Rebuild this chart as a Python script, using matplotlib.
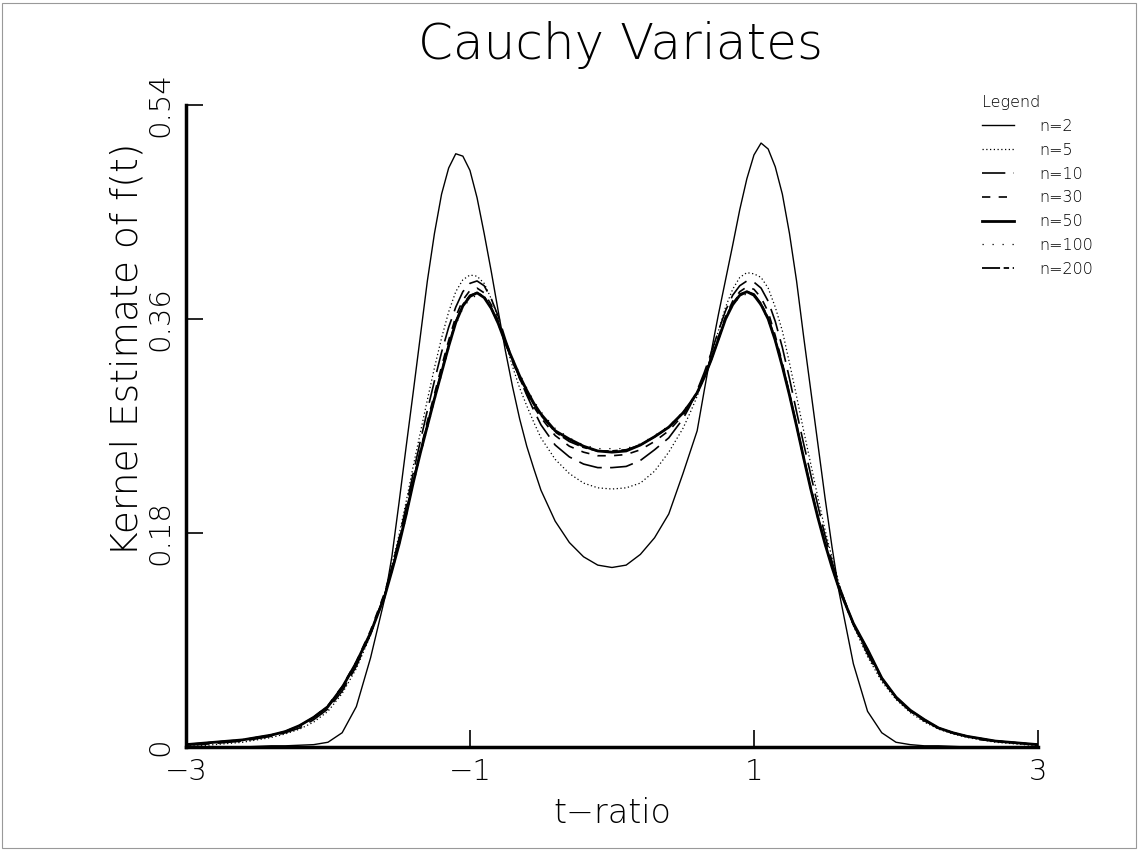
import matplotlib
matplotlib.use("Agg")
import matplotlib.pyplot as plt
from matplotlib import font_manager as fm
from matplotlib.patches import Rectangle

# t grid: 0.1 steps in the tails and the centre, 0.05 steps around the peaks
t_ratio = ([round(-3.0 + 0.1 * i, 2) for i in range(15)]
           + [round(-1.55 + 0.05 * i, 2) for i in range(21)]
           + [round(-0.5 + 0.1 * i, 2) for i in range(11)]
           + [round(0.55 + 0.05 * i, 2) for i in range(21)]
           + [round(1.6 + 0.1 * i, 2) for i in range(15)])

# kernel estimates (tail / left peak / centre / right peak / tail)
dens_n2 = [
    0.000, 0.000, 0.000, 0.000, 0.000, 0.0005, 0.001, 0.001, 0.0015, 0.002, 0.004, 0.012, 0.034, 0.075, 0.125,
    0.160, 0.205, 0.252, 0.298, 0.345, 0.392, 0.432, 0.465, 0.487, 0.499, 0.497, 0.485, 0.462, 0.432, 0.400,
    0.366, 0.333, 0.303, 0.276, 0.253, 0.234,
    0.216, 0.190, 0.172, 0.160, 0.153, 0.151, 0.153, 0.162, 0.176, 0.196, 0.230,
    0.248, 0.266, 0.300, 0.333, 0.364, 0.393, 0.422, 0.452, 0.478, 0.498, 0.508, 0.503, 0.488, 0.465, 0.432,
    0.392, 0.345, 0.300, 0.255, 0.210, 0.168,
    0.130, 0.070, 0.030, 0.012, 0.004, 0.002, 0.001, 0.001, 0.0005, 0.000, 0.000, 0.000, 0.000, 0.000, 0.000,
]
dens_n5 = [
    0.001, 0.001, 0.002, 0.003, 0.004, 0.006, 0.008, 0.011, 0.015, 0.021, 0.030, 0.045, 0.066, 0.094, 0.130,
    0.153, 0.178, 0.206, 0.236, 0.264, 0.292, 0.319, 0.344, 0.366, 0.383, 0.393, 0.397, 0.396, 0.390, 0.377,
    0.360, 0.340, 0.320, 0.302, 0.287, 0.273,
    0.260, 0.242, 0.230, 0.222, 0.218, 0.217, 0.218, 0.222, 0.232, 0.248, 0.268,
    0.281, 0.295, 0.312, 0.330, 0.350, 0.370, 0.385, 0.395, 0.399, 0.398, 0.395, 0.386, 0.370, 0.350, 0.323,
    0.295, 0.266, 0.238, 0.210, 0.183, 0.159,
    0.137, 0.102, 0.076, 0.055, 0.040, 0.029, 0.021, 0.015, 0.011, 0.008, 0.006, 0.004, 0.003, 0.002, 0.001,
]
dens_n10 = [
    0.002, 0.002, 0.003, 0.004, 0.005, 0.007, 0.009, 0.012, 0.016, 0.023, 0.032, 0.047, 0.068, 0.095, 0.129,
    0.151, 0.175, 0.202, 0.230, 0.257, 0.283, 0.308, 0.332, 0.353, 0.370, 0.383, 0.390, 0.392, 0.388, 0.377,
    0.362, 0.343, 0.326, 0.310, 0.296, 0.283,
    0.271, 0.254, 0.244, 0.238, 0.235, 0.235, 0.236, 0.241, 0.250, 0.260, 0.276,
    0.287, 0.300, 0.315, 0.332, 0.350, 0.367, 0.380, 0.388, 0.392, 0.391, 0.386, 0.375, 0.358, 0.336, 0.310,
    0.282, 0.255, 0.229, 0.203, 0.178, 0.156,
    0.136, 0.103, 0.078, 0.057, 0.041, 0.030, 0.022, 0.016, 0.012, 0.009, 0.006, 0.005, 0.004, 0.003, 0.002,
]
dens_n30 = [
    0.002, 0.003, 0.004, 0.005, 0.006, 0.008, 0.010, 0.013, 0.018, 0.025, 0.035, 0.051, 0.072, 0.098, 0.130,
    0.151, 0.173, 0.198, 0.224, 0.249, 0.274, 0.297, 0.320, 0.342, 0.362, 0.376, 0.384, 0.386, 0.382, 0.372,
    0.358, 0.340, 0.324, 0.310, 0.297, 0.286,
    0.277, 0.262, 0.253, 0.248, 0.245, 0.245, 0.246, 0.250, 0.257, 0.266, 0.279,
    0.288, 0.298, 0.312, 0.327, 0.345, 0.362, 0.375, 0.383, 0.387, 0.385, 0.378, 0.366, 0.346, 0.323, 0.297,
    0.270, 0.243, 0.218, 0.194, 0.172, 0.152,
    0.133, 0.103, 0.080, 0.058, 0.042, 0.031, 0.022, 0.016, 0.012, 0.009, 0.007, 0.005, 0.004, 0.003, 0.002,
]
dens_n50 = [
    0.002, 0.003, 0.004, 0.005, 0.006, 0.008, 0.010, 0.013, 0.018, 0.025, 0.034, 0.050, 0.071, 0.096, 0.127,
    0.148, 0.170, 0.195, 0.222, 0.247, 0.270, 0.293, 0.315, 0.337, 0.357, 0.371, 0.379, 0.382, 0.378, 0.369,
    0.356, 0.340, 0.326, 0.312, 0.300, 0.289,
    0.280, 0.266, 0.259, 0.253, 0.249, 0.248, 0.249, 0.254, 0.261, 0.269, 0.281,
    0.289, 0.298, 0.311, 0.326, 0.343, 0.360, 0.372, 0.380, 0.383, 0.380, 0.372, 0.360, 0.342, 0.320, 0.296,
    0.270, 0.243, 0.217, 0.193, 0.171, 0.151,
    0.133, 0.104, 0.082, 0.058, 0.042, 0.031, 0.023, 0.016, 0.012, 0.009, 0.007, 0.005, 0.004, 0.003, 0.002,
]
dens_n100 = [
    0.002, 0.003, 0.004, 0.005, 0.006, 0.008, 0.010, 0.013, 0.018, 0.024, 0.034, 0.049, 0.070, 0.095, 0.126,
    0.147, 0.169, 0.193, 0.220, 0.245, 0.268, 0.291, 0.313, 0.335, 0.355, 0.369, 0.377, 0.380, 0.378, 0.370,
    0.358, 0.342, 0.327, 0.314, 0.302, 0.291,
    0.282, 0.268, 0.260, 0.254, 0.251, 0.251, 0.251, 0.255, 0.262, 0.270, 0.282,
    0.290, 0.299, 0.312, 0.327, 0.343, 0.360, 0.371, 0.379, 0.381, 0.379, 0.371, 0.359, 0.341, 0.319, 0.295,
    0.269, 0.242, 0.216, 0.192, 0.170, 0.150,
    0.132, 0.103, 0.081, 0.058, 0.042, 0.031, 0.023, 0.016, 0.012, 0.009, 0.007, 0.005, 0.004, 0.003, 0.002,
]
dens_n200 = [
    0.002, 0.003, 0.004, 0.005, 0.006, 0.008, 0.010, 0.013, 0.018, 0.025, 0.034, 0.050, 0.071, 0.096, 0.128,
    0.149, 0.171, 0.196, 0.223, 0.248, 0.271, 0.294, 0.316, 0.338, 0.358, 0.372, 0.380, 0.382, 0.379, 0.369,
    0.356, 0.340, 0.325, 0.311, 0.299, 0.288,
    0.279, 0.265, 0.257, 0.252, 0.249, 0.249, 0.250, 0.254, 0.261, 0.269, 0.281,
    0.289, 0.298, 0.311, 0.326, 0.343, 0.361, 0.373, 0.381, 0.383, 0.381, 0.373, 0.361, 0.343, 0.321, 0.297,
    0.271, 0.244, 0.218, 0.194, 0.172, 0.152,
    0.134, 0.104, 0.082, 0.058, 0.042, 0.031, 0.023, 0.016, 0.012, 0.009, 0.007, 0.005, 0.004, 0.003, 0.002,
]

series_labels = ["n=2", "n=5", "n=10", "n=30", "n=50", "n=100", "n=200"]
x_ticks = [-3, -1, 1, 3]
y_ticks = [0, 0.18, 0.36, 0.54]
y_tick_labels = ["0", "0.18", "0.36", "0.54"]


def pick_light_family():
    # first installed family that ships a light face; the original uses a thin stroke font
    for fam in ["DejaVu Sans", "Open Sans", "Roboto", "Lato", "Noto Sans"]:
        for f in fm.fontManager.ttflist:
            w = f.weight if isinstance(f.weight, int) else fm.weight_dict.get(f.weight, 400)
            if f.name == fam and w <= 300 and f.style == "normal":
                return fam, w
    return "DejaVu Sans", 400


family, weight = pick_light_family()
plt.rcParams["font.family"] = [family, "DejaVu Sans"]
plt.rcParams["font.weight"] = weight
plt.rcParams["axes.labelweight"] = weight
plt.rcParams["axes.titleweight"] = weight

fig = plt.figure(figsize=(11.38, 8.51), dpi=100)
ax = fig.add_axes([0.1634, 0.1222, 0.7487, 0.7544])

styles = [
    dict(color="black", lw=1.0, ls="-"),
    dict(color="black", lw=0.9, ls=(0, (1, 2))),
    dict(color="black", lw=1.2, ls=(0, (14, 5))),
    dict(color="black", lw=1.2, ls=(0, (5, 5))),
    dict(color="black", lw=2.0, ls="-"),
    dict(color="black", lw=0.9, ls=(0, (1, 7))),
    dict(color="black", lw=1.3, ls=(0, (10, 2, 3, 2))),
]
all_dens = [dens_n2, dens_n5, dens_n10, dens_n30, dens_n50, dens_n100, dens_n200]
for dens, lab, st in zip(all_dens, series_labels, styles):
    ax.plot(t_ratio, dens, label=lab, **st)

ax.set_xlim(-3, 3)
ax.set_ylim(0, 0.54)
for side in ["top", "right"]:
    ax.spines[side].set_visible(False)
for side in ["left", "bottom"]:
    ax.spines[side].set_linewidth(2.5)

ax.set_xticks(x_ticks)
ax.set_xticklabels([str(v).replace("-", "\u2212") for v in x_ticks], fontsize=21)
ax.set_yticks(y_ticks)
ax.set_yticklabels(y_tick_labels, fontsize=21, rotation=90, va="center")
ax.tick_params(direction="in", length=12, width=1.2, pad=8)

ax.set_xlabel("t\u2212ratio", fontsize=24)
ax.xaxis.set_label_coords(0.5, -0.078)
ax.set_ylabel("Kernel Estimate of f(t)", fontsize=27)
ax.yaxis.set_label_coords(-0.049, 0.62)
fig.text(0.545, 0.947, "Cauchy Variates", ha="center", va="center", fontsize=36)

leg = ax.legend(loc="upper left", bbox_to_anchor=(0.85, 0.905), bbox_transform=fig.transFigure,
                frameon=False, title="Legend", fontsize=11.5, title_fontsize=11.5,
                handlelength=2.0, handletextpad=1.6, labelspacing=0.55, alignment="left")

fig.add_artist(Rectangle((0.002, 0.003), 0.996, 0.994, transform=fig.transFigure,
                         fill=False, lw=0.8, edgecolor="#999999"))

fig.savefig("out.png", dpi=100)
